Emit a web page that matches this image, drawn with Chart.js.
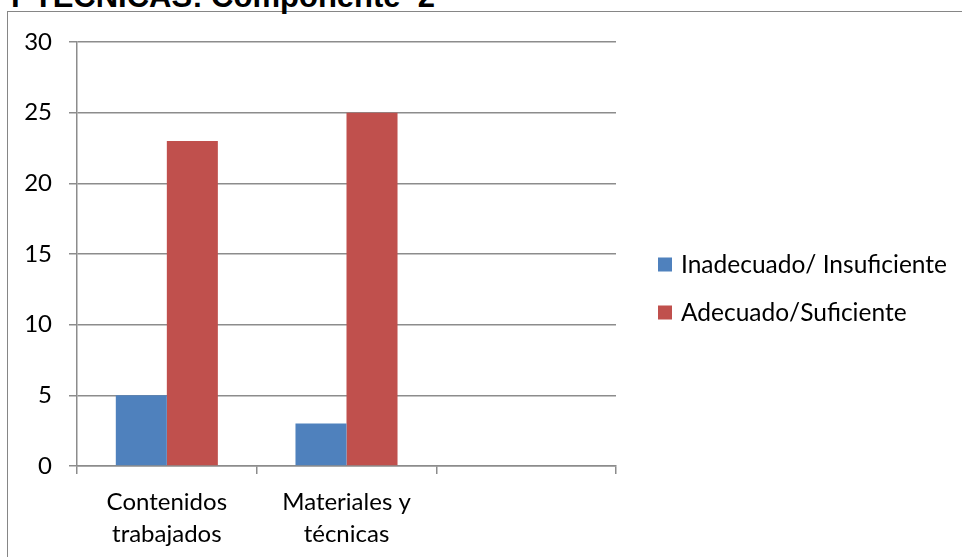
<!DOCTYPE html>
<html>
<head>
<meta charset="utf-8">
<script src="https://cdn.jsdelivr.net/npm/chart.js@4.4.0/dist/chart.umd.min.js"></script>
<style>
  html, body { margin: 0; padding: 0; background: #fff; overflow: hidden; }
  #wrap { position: relative; width: 962px; height: 557px; overflow: hidden; }
  #frame { position: absolute; left: 7px; top: 11px; width: 1100px; height: 700px; border: 1.5px solid #868686; box-sizing: border-box; }
  #title { position: absolute; left: 5px; top: -19px; font-family: "Liberation Sans", Arial, sans-serif; font-weight: bold; font-size: 31px; line-height: 31px; color: #000; white-space: pre; }
  canvas { position: absolute; left: 0; top: 0; }
</style>
</head>
<body>
<div id="wrap">
  <div id="frame"></div>
  <div id="title">Y TÉCNICAS: Componente  2</div>
  <canvas id="c" width="962" height="557"></canvas>
</div>
<script>
// Data
const categories = [["Contenidos", "trabajados"], ["Materiales y", "técnicas"], ""];
const seriesNames = ["Inadecuado/ Insuficiente", "Adecuado/Suficiente"];
const inadecuado = [5, 3, null];
const adecuado = [23, 25, null];
const yTicks = [0, 5, 10, 15, 20, 25, 30];

const colors = ["#4F81BD", "#C0504D"];
const FONT = "Lato, 'Open Sans', sans-serif";
const gridColor = "#8c8c8c";

const legendPlugin = {
  id: "customLegend",
  afterDraw(chart) {
    const ctx = chart.ctx;
    ctx.save();
    ctx.font = "24.5px " + FONT;
    ctx.textBaseline = "middle";
    ctx.textAlign = "left";
    chart.data.datasets.forEach((ds, i) => {
      const cy = 264.5 + i * 48;
      ctx.fillStyle = ds.backgroundColor;
      ctx.fillRect(658, cy - 7, 14, 14);
      ctx.fillStyle = "#000";
      ctx.fillText(ds.label, 681, cy + 1);
    });
    ctx.restore();
  }
};

new Chart(document.getElementById("c"), {
  type: "bar",
  data: {
    labels: categories,
    datasets: [
      { label: seriesNames[0], data: inadecuado, backgroundColor: colors[0] },
      { label: seriesNames[1], data: adecuado, backgroundColor: colors[1] }
    ]
  },
  options: {
    responsive: false,
    animation: false,
    devicePixelRatio: 1,
    layout: { padding: { top: 42, right: 346, bottom: 0, left: 0 } },
    datasets: { bar: { categoryPercentage: 0.568, barPercentage: 1.0 } },
    plugins: { legend: { display: false }, title: { display: false }, tooltip: { enabled: false } },
    scales: {
      x: {
        grid: { display: true, drawOnChartArea: false, drawTicks: true, tickLength: 8, color: gridColor, lineWidth: 1.5, offset: true },
        border: { display: true, color: gridColor, width: 1.5 },
        ticks: { color: "#000", font: { family: FONT, size: 24, lineHeight: 1.3 }, padding: 13, maxRotation: 0, autoSkip: false },
        afterFit(scale) { scale.height = 91; }
      },
      y: {
        min: 0, max: 30,
        afterBuildTicks(scale) { scale.ticks = yTicks.map(v => ({ value: v })); },
        grid: { display: true, drawOnChartArea: true, drawTicks: true, tickLength: 8, color: gridColor, lineWidth: 1.5 },
        border: { display: true, color: gridColor, width: 1.5 },
        ticks: { color: "#000", font: { family: FONT, size: 24 }, padding: 17 },
        afterFit(scale) { scale.width = 77; }
      }
    }
  },
  plugins: [legendPlugin]
});
</script>
</body>
</html>
